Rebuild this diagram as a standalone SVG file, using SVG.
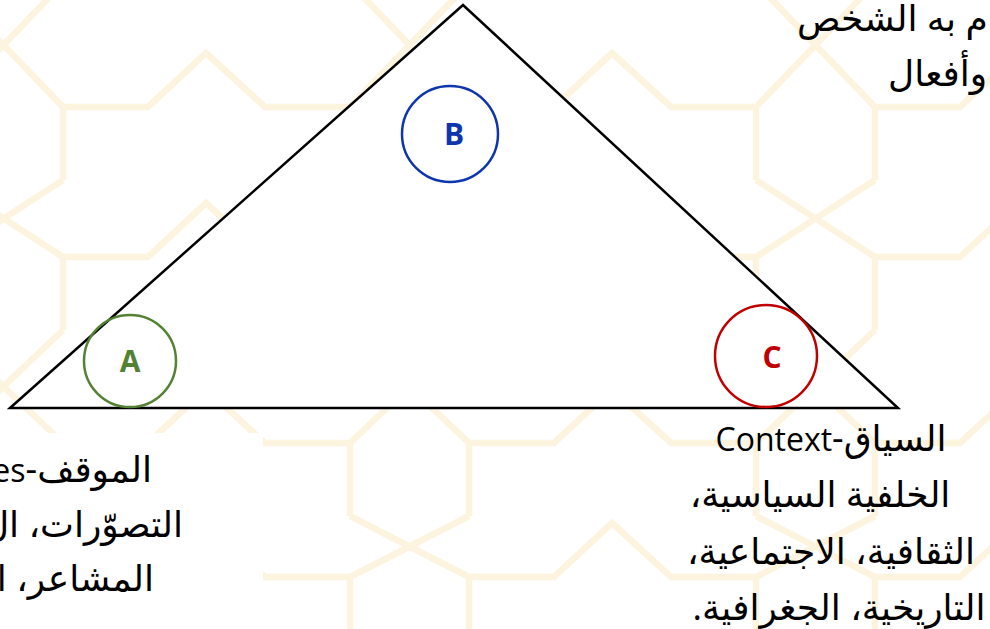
<svg xmlns="http://www.w3.org/2000/svg" width="990" height="629" viewBox="0 0 990 629">
  <defs>
    <style>
      .pat { fill: none; stroke: #fdf4df; stroke-width: 6.5; stroke-linejoin: miter; }
      .tri { fill: #ffffff; stroke: #000000; stroke-width: 2.5; stroke-linejoin: miter; }
      .ring { fill: none; stroke-width: 2.5; }
      .lbl { font-family: "Open Sans", "Liberation Sans", sans-serif; font-weight: bold; font-size: 30px; text-anchor: middle; dominant-baseline: central; }
      .ar { font-family: "Open Sans", "DejaVu Sans", sans-serif; font-size: 36px; fill: #000000; direction: rtl; unicode-bidi: embed; }
      .lat { font-size: 32px; }
    </style>
  </defs>

  <rect x="0" y="0" width="990" height="629" fill="#ffffff"/>

  <g id="background-pattern" class="pat">
    <path d="M-56,-90V-17 M63,-90V-17 M-56,107V180 M63,107V180 M-56,257V330 M63,257V330 M-56,443V516 M63,443V516 M-56,577V650 M63,577V650"/>
    <path d="M350,-90V-17 M469,-90V-17 M350,107V180 M469,107V180 M350,257V330 M469,257V330 M350,443V516 M469,443V516 M350,577V650 M469,577V650"/>
    <path d="M756,-90V-17 M875,-90V-17 M756,107V180 M875,107V180 M756,257V330 M875,257V330 M756,443V516 M875,443V516 M756,577V650 M875,577V650"/>
    <path d="M-56,-17L63,107 M63,-17L-56,107 M-56,180L63,257 M63,180L-56,257 M-56,330L63,443 M63,330L-56,443 M-56,516L63,577 M63,516L-56,577"/>
    <path d="M350,-17L469,107 M469,-17L350,107 M350,180L469,257 M469,180L350,257 M350,330L469,443 M469,330L350,443 M350,516L469,577 M469,516L350,577"/>
    <path d="M756,-17L875,107 M875,-17L756,107 M756,180L875,257 M875,180L756,257 M756,330L875,443 M875,330L756,443 M756,516L875,577 M875,516L756,577"/>
    <path d="M63,107H148L206,53L265,107H350 M63,257H148L206,203L265,257H350 M63,443H148L206,389L265,443H350 M63,577H148L206,523L265,577H350"/>
    <path d="M469,107H554L612,53L671,107H756 M469,257H554L612,203L671,257H756 M469,443H554L612,389L671,443H756 M469,577H554L612,523L671,577H756"/>
    <path d="M875,107H960L1018,53L1077,107 M875,257H960L1018,203L1077,257 M875,443H960L1018,389L1077,443 M875,577H960L1018,523L1077,577"/>
    <path d="M-141,107H-56 M-141,257H-56 M-141,443H-56 M-141,577H-56"/>
  </g>

  <rect id="text-box-left" x="0" y="433" width="263" height="196" fill="#ffffff"/>

  <g id="connectors">
    <polygon class="tri" points="10,408 463,5 898,408"/>
  </g>

  <g id="node-A">
    <circle class="ring" cx="130" cy="361" r="46" stroke="#548235"/>
    <text class="lbl" x="130" y="360" fill="#548235">A</text>
  </g>

  <g id="node-B">
    <circle class="ring" cx="450" cy="134" r="48" stroke="#0d36ad"/>
    <text class="lbl" x="454" y="133" fill="#0d36ad">B</text>
  </g>

  <g id="node-C">
    <circle class="ring" cx="766" cy="356" r="51" stroke="#c00000"/>
    <text class="lbl" x="772" y="356" fill="#c00000">C</text>
  </g>

  <g id="text-top-right">
    <text class="ar" x="797" y="31" text-anchor="end">م به الشخص</text>
    <text class="ar" x="888" y="86" text-anchor="end">وأفعال</text>
  </g>

  <g id="text-bottom-left">
    <text class="ar" x="152" y="482" text-anchor="start">الموقف-<tspan class="lat">es</tspan></text>
    <text class="ar" x="183" y="537" text-anchor="start">التصوّرات، ال</text>
    <text class="ar" x="154" y="591" text-anchor="start">المشاعر، ال</text>
  </g>

  <g id="text-bottom-right">
    <text class="ar" x="831" y="451" text-anchor="middle">السياق-<tspan class="lat">Context</tspan></text>
    <text class="ar" x="820" y="507" text-anchor="middle">الخلفية السياسية،</text>
    <text class="ar" x="831" y="564" text-anchor="middle">الثقافية، الاجتماعية،</text>
    <text class="ar" x="839" y="620" text-anchor="middle">التاريخية، الجغرافية.</text>
  </g>
</svg>
